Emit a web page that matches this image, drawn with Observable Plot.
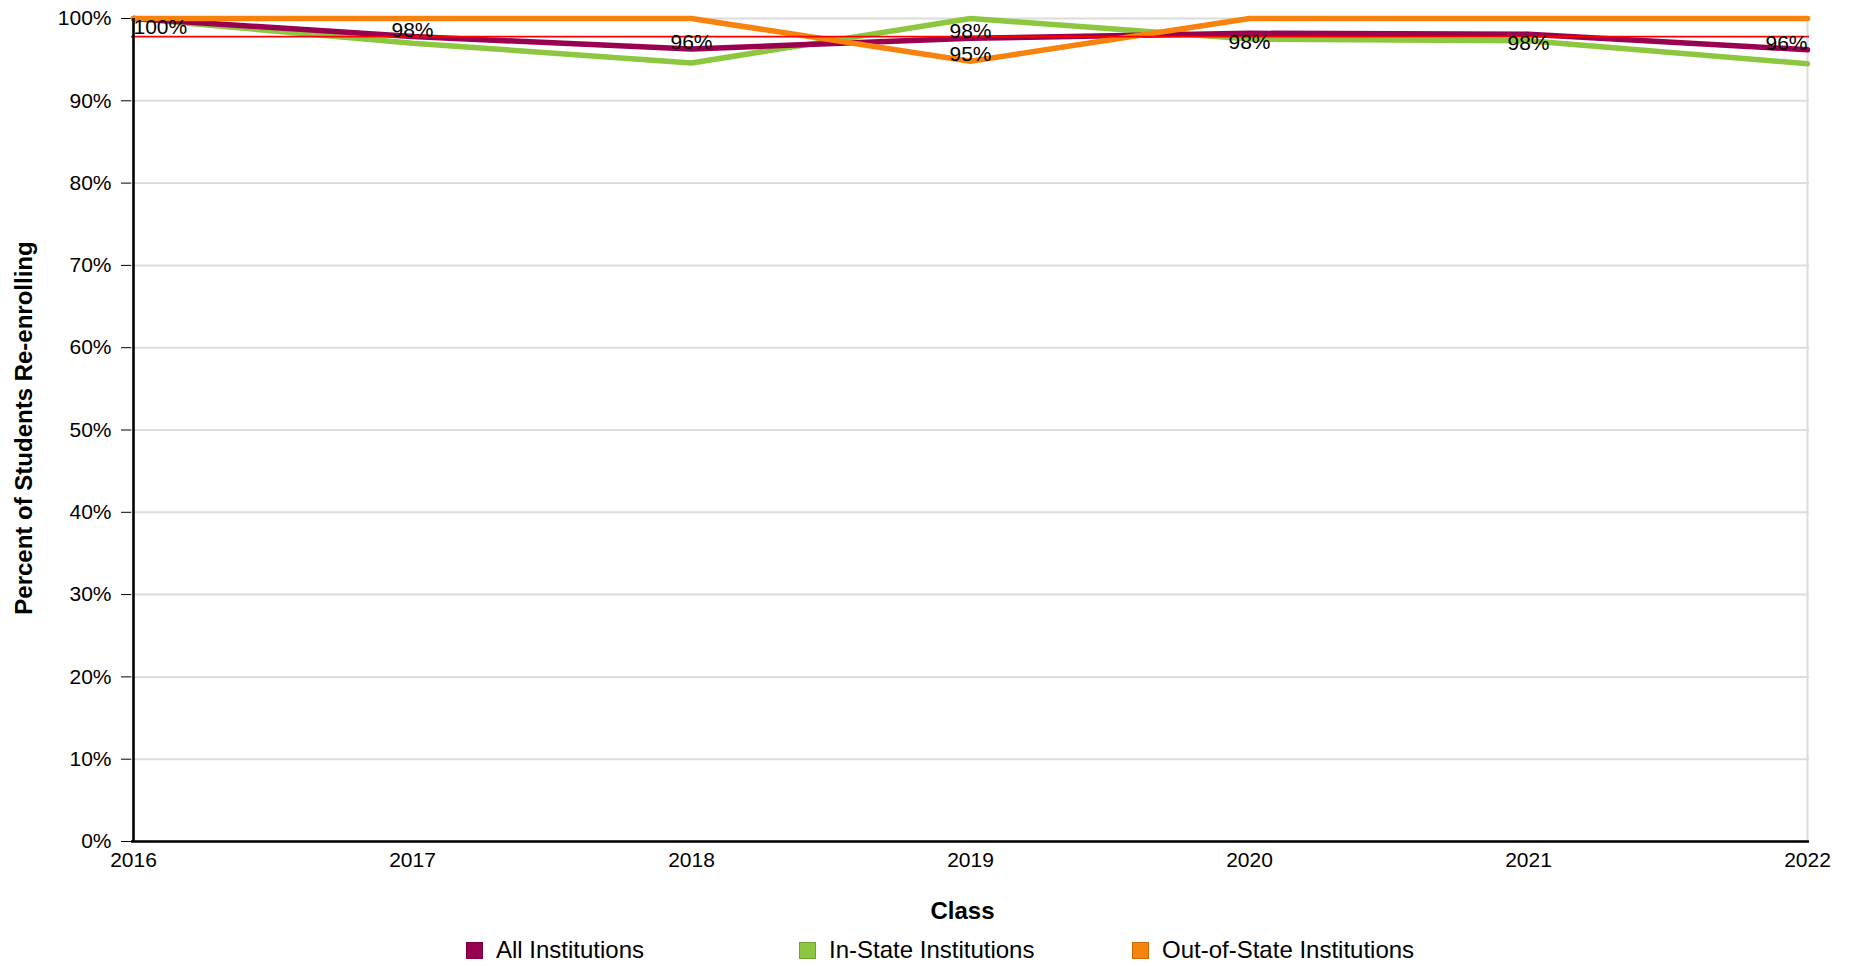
<!DOCTYPE html>
<html>
<head>
<meta charset="utf-8">
<script src="https://cdn.jsdelivr.net/npm/d3@7"></script>
<script src="https://cdn.jsdelivr.net/npm/@observablehq/plot@0.6"></script>
<style>
  body { margin: 0; background: #fff; font-family: "Liberation Sans", Arial, sans-serif; }
  #legend { position: relative; height: 32px; width: 1858px; font-size: 24px; color: #000; }
  .item { position: absolute; top: 0; height: 32px; display: flex; align-items: center; }
  .sw { width: 17px; height: 17px; box-sizing: border-box; margin-right: 13px; }
</style>
</head>
<body>
<div id="chart"></div>
<div id="legend"></div>
<script>
const years = [2016, 2017, 2018, 2019, 2020, 2021, 2022];
const seriesNames = ["All Institutions", "In-State Institutions", "Out-of-State Institutions"];
const seriesColors = ["#990050", "#8dc63f", "#f7820c"];
const allInstitutions = [100, 97.8, 96.3, 97.6, 98.2, 98.1, 96.2];
const inStateInstitutions = [100, 97.0, 94.6, 100, 97.5, 97.3, 94.5];
const outOfStateInstitutions = [100, 100, 100, 94.8, 100, 100, 100];
const benchmark = 97.8;
const yTicks = [0, 10, 20, 30, 40, 50, 60, 70, 80, 90, 100];
const outOfStateLabelYears = [2019];
const xTitle = "Class";
const yTitle = "Percent of Students Re-enrolling";

const valuesBySeries = {
  "All Institutions": allInstitutions,
  "In-State Institutions": inStateInstitutions,
  "Out-of-State Institutions": outOfStateInstitutions
};
// drawing order: green, maroon, orange
const drawOrder = ["In-State Institutions", "All Institutions", "Out-of-State Institutions"];
const rows = drawOrder.flatMap(s => years.map((year, i) => ({series: s, year, value: valuesBySeries[s][i]})));

const labelRows = [
  ...years.map((year, i) => ({year, value: allInstitutions[i]})),
  ...outOfStateLabelYears.map(year => ({year, value: outOfStateInstitutions[years.indexOf(year)]}))
];
const first = years[0], last = years[years.length - 1];
const fmt = d => Math.round(d) + "%";
const anchorFor = d => d.year === first ? "start" : d.year === last ? "end" : "middle";
// labels above the benchmark sit below their point, others sit on top of it
const labelMarks = [];
for (const ta of ["start", "middle", "end"]) {
  for (const below of [true, false]) {
    const subset = labelRows.filter(d => anchorFor(d) === ta && (d.value > benchmark) === below);
    if (!subset.length) continue;
    labelMarks.push(Plot.text(subset, {
      x: "year", y: "value", text: d => fmt(d.value),
      textAnchor: ta, lineAnchor: below ? "top" : "bottom",
      dy: below ? 1 : 0, fontSize: 21, fill: "#000"
    }));
  }
}

const chart = Plot.plot({
  width: 1858,
  height: 934,
  marginLeft: 131,
  marginRight: 49,
  marginTop: 18,
  marginBottom: 93,
  style: {fontSize: "21px", fontFamily: "'Liberation Sans', Arial, sans-serif", color: "#000", background: "#fff"},
  x: {type: "point", domain: years, padding: 0, tickSize: 0, tickPadding: 11, label: null, tickFormat: d => String(d)},
  y: {domain: [0, 100], ticks: yTicks, tickSize: 10, tickPadding: 10, tickFormat: d => d + "%", label: null},
  color: {domain: seriesNames, range: seriesColors},
  marks: [
    Plot.ruleY(yTicks, {stroke: "#dcdcdc", strokeWidth: 2}),
    Plot.ruleX([last], {stroke: "#dcdcdc", strokeWidth: 2}),
    Plot.line(rows, {x: "year", y: "value", z: "series", stroke: "series", strokeWidth: 5.5, strokeLinejoin: "miter"}),
    Plot.ruleY([benchmark], {stroke: "#ff0000", strokeWidth: 1.6}),
    Plot.ruleX([first], {stroke: "#000", strokeWidth: 2.6}),
    Plot.ruleY([0], {stroke: "#000", strokeWidth: 2.6}),
    ...labelMarks,
    Plot.text([xTitle], {text: d => d, frameAnchor: "bottom", textAnchor: "middle", lineAnchor: "middle", dy: 70, dx: -8, fontWeight: "bold", fontSize: 24, fill: "#000"}),
    Plot.text([yTitle], {text: d => d, frameAnchor: "left", textAnchor: "middle", lineAnchor: "middle", dx: -107.5, dy: -2, rotate: -90, fontWeight: "bold", fontSize: 24, fill: "#000"})
  ]
});
document.getElementById("chart").appendChild(chart);

const legend = document.getElementById("legend");
const legendStart = 466, legendStep = 333;
seriesNames.forEach((name, i) => {
  const item = document.createElement("div");
  item.className = "item";
  item.style.left = (legendStart + i * legendStep) + "px";
  const sw = document.createElement("span");
  sw.className = "sw";
  sw.style.background = seriesColors[i];
  sw.style.border = "1px solid " + d3.color(seriesColors[i]).darker(0.6);
  const t = document.createElement("span");
  t.textContent = name;
  item.appendChild(sw);
  item.appendChild(t);
  legend.appendChild(item);
});
</script>
</body>
</html>
